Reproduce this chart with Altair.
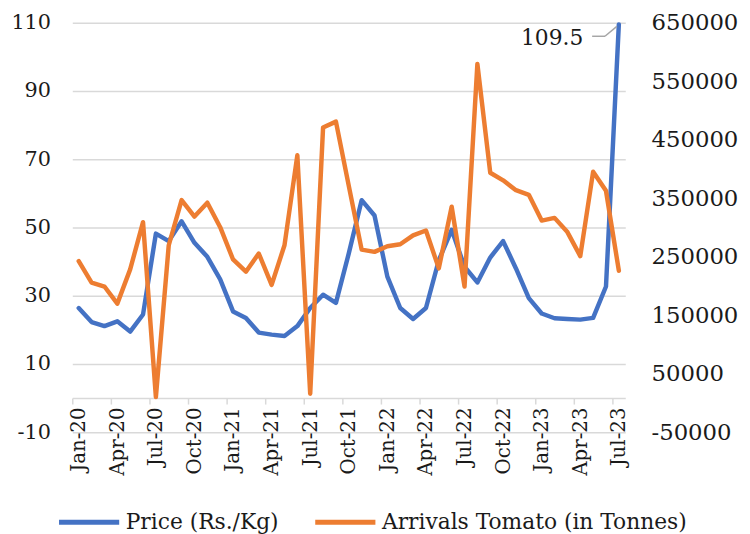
import json
import altair as alt
import pandas as pd

months = ["Jan-20", "Feb-20", "Mar-20", "Apr-20", "May-20", "Jun-20", "Jul-20", "Aug-20", "Sep-20", "Oct-20", "Nov-20", "Dec-20",
          "Jan-21", "Feb-21", "Mar-21", "Apr-21", "May-21", "Jun-21", "Jul-21", "Aug-21", "Sep-21", "Oct-21", "Nov-21", "Dec-21",
          "Jan-22", "Feb-22", "Mar-22", "Apr-22", "May-22", "Jun-22", "Jul-22", "Aug-22", "Sep-22", "Oct-22", "Nov-22", "Dec-22",
          "Jan-23", "Feb-23", "Mar-23", "Apr-23", "May-23", "Jun-23", "Jul-23"]

price = [26.4, 22.3, 21.1, 22.5, 19.5, 24.5, 48.2, 46.0, 51.8, 45.5, 41.4, 34.8,
         25.4, 23.5, 19.2, 18.6, 18.2, 21.1, 26.4, 30.3, 27.9, 42.4, 58.0, 53.5,
         35.6, 26.4, 23.2, 26.4, 40.4, 49.3, 38.5, 33.9, 41.2, 46.0, 38.0, 29.3,
         24.8, 23.4, 23.2, 23.0, 23.5, 32.7, 109.5]

arrivals = [242500, 205800, 199100, 169800, 228400, 309000, 10300, 269600, 346800, 318600, 342300, 300500,
            245300, 224400, 255500, 201900, 269600, 423400, 15900, 470800, 480900, 371000, 262200, 258300,
            267900, 271300, 286500, 294900, 230100, 335500, 199100, 579500, 393600, 380600, 363700, 355800,
            311800, 316400, 292100, 251000, 395200, 362600, 226100]

series_names = ["Price (Rs./Kg)", "Arrivals Tomato (in Tonnes)"]
colors = ["#4472C4", "#ED7D31"]
left_ticks = [-10, 10, 30, 50, 70, 90, 110]
right_ticks = [-50000, 50000, 150000, 250000, 350000, 450000, 550000, 650000]

n = len(months)
df = pd.DataFrame({
    "idx": [i + 0.5 for i in range(n)] * 2,
    "month": months * 2,
    "series": [series_names[0]] * n + [series_names[1]] * n,
    "value": price + arrivals,
})

FONT = "DejaVu Serif"
FS = 22
TXT = "#1a1a1a"
GRID = "#D9D9D9"

W, H = 559, 414
month_labels = months[::3]

x_scale = alt.Scale(domain=[0, n], nice=False, zero=False)
x_axis = alt.Axis(
    values=list(range(0, n, 3)),
    labelExpr=json.dumps(month_labels) + "[round(datum.value/3)]",
    labelAngle=270,
    labelOffset=W / n / 2,
    offset=-H * 10 / 120,
    grid=False,
    title=None,
    tickSize=6,
    tickColor=GRID,
    tickWidth=1.5,
    domainColor=GRID,
    domainWidth=1.5,
    labelPadding=3,
    labelFontSize=20,
    labelFont=FONT,
    labelColor=TXT,
)
x_enc = alt.X("idx:Q", scale=x_scale, axis=x_axis)

color_enc = alt.Color(
    "series:N",
    scale=alt.Scale(domain=series_names, range=colors),
    legend=alt.Legend(
        title=None,
        orient="none",
        legendX=-16,
        legendY=472,
        direction="horizontal",
        symbolType="stroke",
        symbolSize=3700,
        symbolStrokeWidth=5,
        labelFontSize=FS,
        labelFont=FONT,
        labelColor=TXT,
        labelLimit=600,
        labelOffset=4,
        columnPadding=26,
        padding=0,
    ),
)

base = alt.Chart(df)

y_left_scale = alt.Scale(domain=[-10, 110], nice=False, zero=False)
y_left_axis = alt.Axis(
    values=left_ticks, labelExpr="'' + datum.value", title=None,
    grid=True, gridColor=GRID, gridWidth=1.5, domain=False, ticks=False,
    labelPadding=22, labelFontSize=FS - 1, labelFont=FONT, labelColor=TXT,
)
y_left = alt.Y("value:Q", scale=y_left_scale, axis=y_left_axis)

price_line = base.transform_filter(alt.datum.series == series_names[0]).mark_line(
    strokeWidth=4.5, strokeJoin="round", strokeCap="round"
).encode(x=x_enc, y=y_left, color=color_enc)

last = base.transform_filter(
    (alt.datum.series == series_names[0]) & (alt.datum.idx == n - 0.5)
)

label = last.mark_text(
    align="right", baseline="middle", dx=-36, dy=14, font=FONT, fontSize=FS, color=TXT
).encode(x=x_enc, y=y_left, text=alt.Text("value:Q", format=".1f"))

lead1 = last.mark_rule(
    color="#A6A6A6", strokeWidth=1.5, xOffset=-27, x2Offset=-14, yOffset=12, y2Offset=12
).encode(x=x_enc, x2="idx:Q", y=y_left, y2="value:Q")

lead2 = last.mark_rule(
    color="#A6A6A6", strokeWidth=1.5, xOffset=-14, x2Offset=-2, yOffset=12, y2Offset=2
).encode(x=x_enc, x2="idx:Q", y=y_left, y2="value:Q")

left_layer = alt.layer(price_line, lead1, lead2, label)

arr_line = base.transform_filter(alt.datum.series == series_names[1]).mark_line(
    strokeWidth=4.5, strokeJoin="round", strokeCap="round"
).encode(
    x=x_enc,
    y=alt.Y("value:Q", scale=alt.Scale(domain=[-50000, 650000], nice=False, zero=False), axis=alt.Axis(
        orient="right", values=right_ticks, labelExpr="'' + datum.value", title=None,
        grid=False, domain=False, ticks=False,
        labelPadding=26, labelFontSize=FS + 1, labelFont=FONT, labelColor=TXT,
    )),
    color=color_enc,
)

chart = alt.layer(left_layer, arr_line).resolve_scale(y="independent").properties(
    width=W,
    height=H,
    autosize=alt.AutoSizeParams(type="none"),
    padding={"left": 65, "top": 12, "right": 118, "bottom": 100},
    view=alt.ViewBackground(stroke=None, strokeWidth=0),
).configure_view(strokeWidth=0, stroke=None).configure(font=FONT)

chart.save("out.html", embed_options={"renderer": "svg", "actions": False})
